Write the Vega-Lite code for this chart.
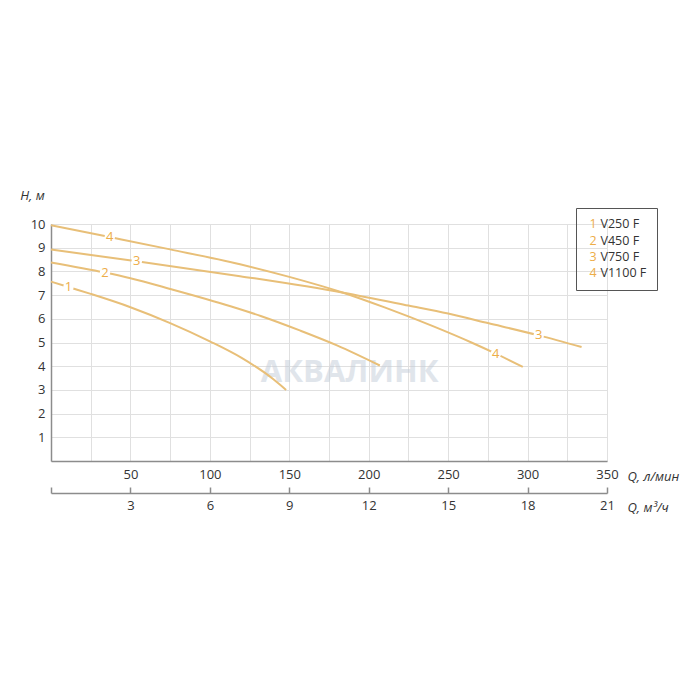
{
  "$schema": "https://vega.github.io/schema/vega-lite/v6.json",
  "width": 556,
  "height": 237,
  "autosize": {"type": "none"},
  "padding": {"left": 51, "top": 224, "right": 93, "bottom": 239},
  "background": "white",
  "config": {
    "view": {"stroke": null},
    "font": "Open Sans",
    "axis": {"labelColor": "#333333", "labelFontSize": 13, "titleColor": "#333333", "titleFontSize": 13, "titleFontWeight": "normal", "titleFontStyle": "italic", "domainColor": "#8c8c8c", "domainWidth": 1.5, "gridColor": "#e0e0e0", "gridWidth": 1, "labelOverlap": false}
  },
  "datasets": {
    "curves": [
      {"model": "V250 F", "num": "1", "Q": 0, "H": 7.57},
      {"model": "V250 F", "num": "1", "Q": 11, "H": 7.34},
      {"model": "V250 F", "num": "1", "Q": 25, "H": 7.05},
      {"model": "V250 F", "num": "1", "Q": 50, "H": 6.49},
      {"model": "V250 F", "num": "1", "Q": 75, "H": 5.82},
      {"model": "V250 F", "num": "1", "Q": 100, "H": 5.05},
      {"model": "V250 F", "num": "1", "Q": 120, "H": 4.35},
      {"model": "V250 F", "num": "1", "Q": 140, "H": 3.45},
      {"model": "V250 F", "num": "1", "Q": 148, "H": 3.0},
      {"model": "V450 F", "num": "2", "Q": 0, "H": 8.38},
      {"model": "V450 F", "num": "2", "Q": 34, "H": 7.95},
      {"model": "V450 F", "num": "2", "Q": 50, "H": 7.71},
      {"model": "V450 F", "num": "2", "Q": 75, "H": 7.26},
      {"model": "V450 F", "num": "2", "Q": 113, "H": 6.53},
      {"model": "V450 F", "num": "2", "Q": 132, "H": 6.12},
      {"model": "V450 F", "num": "2", "Q": 157, "H": 5.5},
      {"model": "V450 F", "num": "2", "Q": 180, "H": 4.88},
      {"model": "V450 F", "num": "2", "Q": 207, "H": 4.03},
      {"model": "V750 F", "num": "3", "Q": 0, "H": 8.92},
      {"model": "V750 F", "num": "3", "Q": 54, "H": 8.43},
      {"model": "V750 F", "num": "3", "Q": 119, "H": 7.8},
      {"model": "V750 F", "num": "3", "Q": 184, "H": 7.1},
      {"model": "V750 F", "num": "3", "Q": 225, "H": 6.56},
      {"model": "V750 F", "num": "3", "Q": 250, "H": 6.22},
      {"model": "V750 F", "num": "3", "Q": 275, "H": 5.82},
      {"model": "V750 F", "num": "3", "Q": 307, "H": 5.3},
      {"model": "V750 F", "num": "3", "Q": 334, "H": 4.81},
      {"model": "V1100 F", "num": "4", "Q": 0, "H": 9.95},
      {"model": "V1100 F", "num": "4", "Q": 37, "H": 9.45},
      {"model": "V1100 F", "num": "4", "Q": 75, "H": 8.93},
      {"model": "V1100 F", "num": "4", "Q": 119, "H": 8.3},
      {"model": "V1100 F", "num": "4", "Q": 150, "H": 7.77},
      {"model": "V1100 F", "num": "4", "Q": 184, "H": 7.1},
      {"model": "V1100 F", "num": "4", "Q": 210, "H": 6.48},
      {"model": "V1100 F", "num": "4", "Q": 240, "H": 5.7},
      {"model": "V1100 F", "num": "4", "Q": 265, "H": 4.99},
      {"model": "V1100 F", "num": "4", "Q": 280, "H": 4.53},
      {"model": "V1100 F", "num": "4", "Q": 297, "H": 3.97}
    ],
    "labels": [
      {"num": "1", "Q": 11, "H": 7.34},
      {"num": "2", "Q": 34, "H": 7.95},
      {"num": "3", "Q": 54, "H": 8.43},
      {"num": "4", "Q": 37, "H": 9.45},
      {"num": "3", "Q": 307, "H": 5.3},
      {"num": "4", "Q": 280, "H": 4.53}
    ]
  },
  "layer": [
    {
      "layer": [
        {
          "data": {"values": [{"name": "АКВАЛИНК"}]},
          "mark": {"type": "text", "fontSize": 31, "fontWeight": "bold", "color": "#c3ccd8", "opacity": 0.5, "align": "center", "baseline": "middle"},
          "encoding": {
            "x": {"datum": 188, "type": "quantitative", "scale": {"domain": [0, 350], "nice": false},
              "axis": {"orient": "bottom", "values": [0, 25, 50, 75, 100, 125, 150, 175, 200, 225, 250, 275, 300, 325, 350], "labelExpr": "datum.value % 50 == 0 && datum.value > 0 ? datum.label : ''", "ticks": false, "labelPadding": 7, "grid": true, "title": "Q, л/мин", "titleX": 576, "titleY": 15, "titleAlign": "left", "titleBaseline": "middle", "labelFlush": false}},
            "y": {"datum": 3.7, "type": "quantitative", "scale": {"domain": [0, 10], "nice": false},
              "axis": {"values": [0, 1, 2, 3, 4, 5, 6, 7, 8, 9, 10], "labelExpr": "datum.value > 0 ? datum.label : ''", "ticks": false, "labelPadding": 6, "grid": true, "title": "H, м", "titleAngle": 0, "titleX": -19, "titleY": -29, "titleAlign": "center", "titleBaseline": "middle", "labelFlush": false}},
            "text": {"field": "name"}
          }
        },
        {
          "data": {"name": "curves"},
          "mark": {"type": "line", "interpolate": "monotone", "strokeWidth": 2},
          "encoding": {
            "x": {"field": "Q", "type": "quantitative", "scale": {"domain": [0, 350], "nice": false},
              "axis": {"orient": "bottom", "values": [0, 25, 50, 75, 100, 125, 150, 175, 200, 225, 250, 275, 300, 325, 350], "labelExpr": "datum.value % 50 == 0 && datum.value > 0 ? datum.label : ''", "ticks": false, "labelPadding": 7, "grid": true, "title": "Q, л/мин", "titleX": 576, "titleY": 15, "titleAlign": "left", "titleBaseline": "middle", "labelFlush": false}},
            "y": {"field": "H", "type": "quantitative", "scale": {"domain": [0, 10], "nice": false},
              "axis": {"values": [0, 1, 2, 3, 4, 5, 6, 7, 8, 9, 10], "labelExpr": "datum.value > 0 ? datum.label : ''", "ticks": false, "labelPadding": 6, "grid": true, "title": "H, м", "titleAngle": 0, "titleX": -19, "titleY": -29, "titleAlign": "center", "titleBaseline": "middle", "labelFlush": false}},
            "color": {"field": "model", "type": "nominal", "scale": {"domain": ["V250 F", "V450 F", "V750 F", "V1100 F"], "range": ["#e8bf78", "#e8bf78", "#e8bf78", "#e8bf78"]},
              "legend": {"orient": "none", "legendX": 525, "legendY": -16, "title": null, "symbolType": "square", "symbolSize": 100, "symbolOpacity": 0, "symbolStrokeWidth": 0, "labelOffset": 2, "padding": 10, "strokeColor": "#555555", "labelFontSize": 12.5, "labelColor": "#333333", "rowPadding": 3.3}}
          }
        },
        {
          "data": {"name": "labels"},
          "mark": {"type": "point", "shape": "circle", "filled": true, "color": "white", "opacity": 1, "size": 110},
          "encoding": {
            "x": {"field": "Q", "type": "quantitative", "scale": {"domain": [0, 350], "nice": false},
              "axis": {"orient": "bottom", "values": [0, 25, 50, 75, 100, 125, 150, 175, 200, 225, 250, 275, 300, 325, 350], "labelExpr": "datum.value % 50 == 0 && datum.value > 0 ? datum.label : ''", "ticks": false, "labelPadding": 7, "grid": true, "title": "Q, л/мин", "titleX": 576, "titleY": 15, "titleAlign": "left", "titleBaseline": "middle", "labelFlush": false}},
            "y": {"field": "H", "type": "quantitative", "scale": {"domain": [0, 10], "nice": false},
              "axis": {"values": [0, 1, 2, 3, 4, 5, 6, 7, 8, 9, 10], "labelExpr": "datum.value > 0 ? datum.label : ''", "ticks": false, "labelPadding": 6, "grid": true, "title": "H, м", "titleAngle": 0, "titleX": -19, "titleY": -29, "titleAlign": "center", "titleBaseline": "middle", "labelFlush": false}}
          }
        },
        {
          "data": {"name": "labels"},
          "mark": {"type": "text", "fontSize": 13, "align": "center", "baseline": "middle"},
          "encoding": {
            "x": {"field": "Q", "type": "quantitative", "scale": {"domain": [0, 350], "nice": false},
              "axis": {"orient": "bottom", "values": [0, 25, 50, 75, 100, 125, 150, 175, 200, 225, 250, 275, 300, 325, 350], "labelExpr": "datum.value % 50 == 0 && datum.value > 0 ? datum.label : ''", "ticks": false, "labelPadding": 7, "grid": true, "title": "Q, л/мин", "titleX": 576, "titleY": 15, "titleAlign": "left", "titleBaseline": "middle", "labelFlush": false}},
            "y": {"field": "H", "type": "quantitative", "scale": {"domain": [0, 10], "nice": false},
              "axis": {"values": [0, 1, 2, 3, 4, 5, 6, 7, 8, 9, 10], "labelExpr": "datum.value > 0 ? datum.label : ''", "ticks": false, "labelPadding": 6, "grid": true, "title": "H, м", "titleAngle": 0, "titleX": -19, "titleY": -29, "titleAlign": "center", "titleBaseline": "middle", "labelFlush": false}},
            "text": {"field": "num"},
            "color": {"field": "num", "type": "nominal", "scale": {"domain": ["1", "2", "3", "4"], "range": ["#edad48", "#edad48", "#edad48", "#edad48"]},
              "legend": {"orient": "none", "legendX": 526, "legendY": -6, "title": null, "symbolSize": 0, "symbolOpacity": 0, "symbolStrokeWidth": 0, "labelOffset": 0, "padding": 0, "labelFontSize": 12.5, "labelColor": "#edad48", "rowPadding": 3.3}}
          }
        }
      ],
      "resolve": {"scale": {"color": "independent"}, "legend": {"color": "independent"}}
    },
    {
      "data": {"name": "curves"},
      "mark": {"type": "point", "opacity": 0},
      "encoding": {
        "x": {"field": "Q", "type": "quantitative", "scale": {"domain": [0, 350], "nice": false},
          "axis": {"orient": "bottom", "offset": 32, "values": [0, 50, 100, 150, 200, 250, 300, 350], "labelExpr": "datum.value > 0 ? format(datum.value * 0.06, 'd') : ''", "ticks": true, "tickSize": -6, "tickColor": "#8c8c8c", "tickWidth": 1.5, "labelPadding": 12, "grid": false, "title": "Q, м³/ч", "titleX": 576, "titleY": 14, "titleAlign": "left", "titleBaseline": "middle", "labelFlush": false}}
      }
    }
  ],
  "resolve": {"scale": {"x": "independent", "color": "independent"}, "axis": {"x": "independent"}, "legend": {"color": "independent"}}
}
